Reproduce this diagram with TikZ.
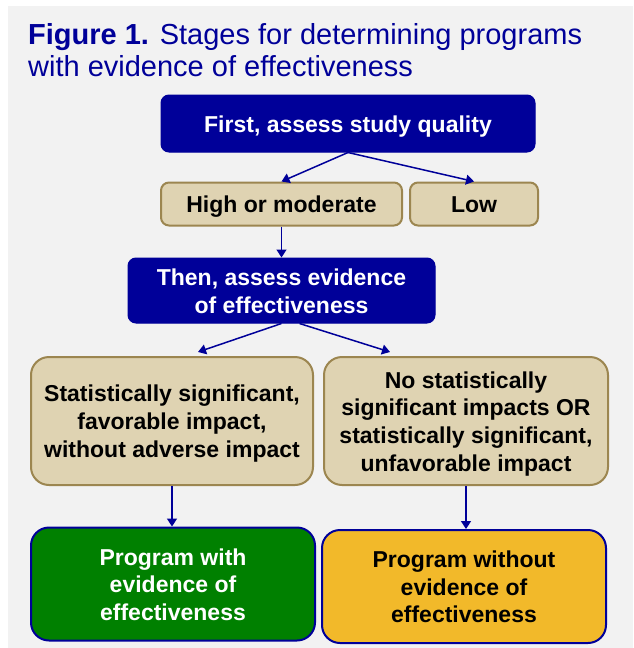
\documentclass[tikz,border=0pt]{standalone}
\usepackage{fontspec}
\setmainfont{Liberation Sans}
\usetikzlibrary{arrows.meta,calc}
\definecolor{navy}{HTML}{000099}
\definecolor{panel}{HTML}{F2F2F2}
\definecolor{tanfill}{HTML}{DFD3B2}
\definecolor{tanline}{HTML}{9C8650}
\definecolor{okgreen}{HTML}{008000}
\definecolor{gold}{HTML}{F2B92A}
\newcommand{\tstrut}{\rule{0pt}{22pt}}
\begin{document}
\begin{tikzpicture}[x=1pt,y=1pt,
  base/.style={inner sep=0pt, align=center, font=\fontsize{23}{27.7}\selectfont\bfseries,
    execute at end node={\rule[-4.6pt]{0pt}{4.6pt}}},
  bluebox/.style={base, fill=navy, draw=navy, line width=1pt, rounded corners=8pt, text=white},
  tanbox/.style={base, fill=tanfill, draw=tanline, line width=2pt, rounded corners=8pt, text=black},
  bigtan/.style={tanbox, rounded corners=18pt},
  greenbox/.style={base, fill=okgreen, draw=navy, line width=2pt, rounded corners=18pt, text=white},
  goldbox/.style={base, fill=gold, draw=navy, line width=2pt, rounded corners=18pt, text=black},
  conn/.style={draw=navy, line width=1.5pt, -{Triangle[length=8pt,width=10pt]}},
  title/.style={anchor=base west, inner sep=0pt, text=navy, font=\fontsize{29}{32}\selectfont}
]
\useasboundingbox (0,0) rectangle (633,-648);
\fill[white] (0,0) rectangle (633,-648);
\fill[panel] (8,-6) rectangle (633,-648);

\node[title] (t1) at (28,-44) {\textbf{Figure 1.} Stages for determining programs};
\node[title] (t2) at (28,-76) {with evidence of effectiveness};

\node[bluebox, minimum width=374pt, minimum height=57pt] (q) at (348,-123.5) {\tstrut First, assess study quality};
\node[tanbox, minimum width=241pt, minimum height=43pt] (hm) at (281.5,-204) {\tstrut High or moderate};
\node[tanbox, minimum width=128pt, minimum height=43pt] (low) at (474,-204) {\tstrut Low};
\node[bluebox, minimum width=307pt, minimum height=65pt] (ev) at (281.5,-290.5) {\tstrut Then, assess evidence\\of effectiveness};
\node[bigtan, minimum width=282pt, minimum height=128pt] (sig) at (172,-421) {\tstrut Statistically significant,\\favorable impact,\\without adverse impact};
\node[bigtan, minimum width=284pt, minimum height=128pt] (nosig) at (466,-421) {\tstrut No statistically\\significant impacts OR\\statistically significant,\\unfavorable impact};
\node[greenbox, minimum width=284pt, minimum height=113pt] (with) at (173,-584) {\tstrut Program with\\evidence of\\effectiveness};
\node[goldbox, minimum width=284pt, minimum height=113pt] (without) at (464,-586.5) {\tstrut Program without\\evidence of\\effectiveness};

\draw[conn] (q.south) -- (hm.north);
\draw[conn] (q.south) -- (low.north);
\draw[conn] (hm.south) -- (ev.north);
\coordinate (evl) at ($(ev.south)+(0,0)$);
\coordinate (evr) at ($(ev.south)+(18,0)$);
\coordinate (sigin) at ($(sig.north)+(26,4)$);
\coordinate (nosigin) at ($(nosig.north)+(-76,4)$);
\draw[conn] (evl) -- (sigin);
\draw[conn] (evr) -- (nosigin);
\draw[conn] (sig.south) -- (sig.south |- with.north);
\draw[conn] (nosig.south) -- (nosig.south |- without.north);
\end{tikzpicture}
\end{document}
